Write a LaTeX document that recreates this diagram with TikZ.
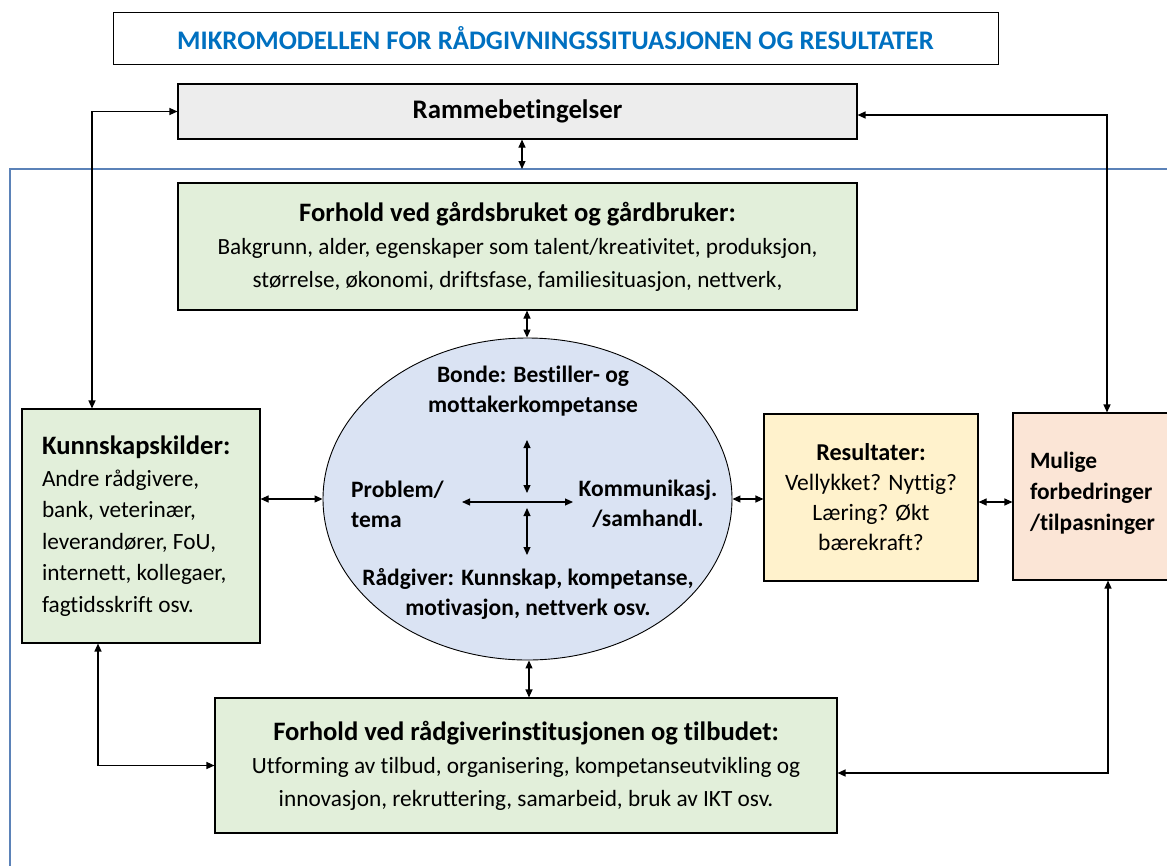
\documentclass[tikz,border=0pt]{standalone}
\usepackage{fontspec}
\setmainfont{Carlito}[Ligatures=CommonOff]
\usepackage{xcolor}
\usetikzlibrary{arrows.meta, shapes.geometric}

\definecolor{titleblue}{HTML}{0070C0}
\definecolor{framegray}{HTML}{EDEDED}
\definecolor{farmgreen}{HTML}{E2EFDA}
\definecolor{meetblue}{HTML}{DAE3F3}
\definecolor{resyellow}{HTML}{FFF2CC}
\definecolor{improvepeach}{HTML}{FBE5D6}
\definecolor{lineblue}{HTML}{5B82B8}

\newcommand{\boxhead}[1]{{\bfseries\fontsize{26.6}{33}\selectfont #1}}

\begin{document}
\begin{tikzpicture}
    [x=1pt, y=-1pt,
     every node/.style={inner sep=0pt, font=\fontsize{23.3}{31.5}\selectfont},
     box/.style={draw, line width=1.1pt, align=center},
     inner/.style={font=\bfseries\fontsize{23.5}{30}\selectfont, align=center},
     link/.style={draw, line width=1.3pt, {Triangle[length=8pt,width=7pt]}-{Triangle[length=8pt,width=7pt]}}]

    \useasboundingbox (0,0) rectangle (1167,865);
    \clip (0,0) rectangle (1167,865);

    % outer frame
    \draw[lineblue, line width=1.1pt] (10,880) -- (10,169) coordinate (frametop) -- (1190,169);

    \node[draw, line width=0.7pt, minimum width=885, minimum height=52, text=titleblue,
          font=\bfseries\fontsize{26.8}{30}\selectfont] (title) at (555.5,38)
        {MIKROMODELLEN FOR RÅDGIVNINGSSITUASJONEN OG RESULTATER};

    \node[box, fill=framegray, minimum width=679, minimum height=55,
          font=\bfseries\fontsize{26.8}{30}\selectfont] (ramme) at (517.5,111.5) {Rammebetingelser};

    \node[box, fill=farmgreen, minimum width=679, minimum height=127, font=\fontsize{23.2}{33}\selectfont] (gard) at (517.5,246.5)
        {\boxhead{Forhold ved gårdsbruket og gårdbruker:}\\
         Bakgrunn, alder, egenskaper som talent/kreativitet, produksjon,\\
         størrelse, økonomi, driftsfase, familiesituasjon, nettverk,};

    \node[draw, ellipse, line width=0.9pt, fill=meetblue, minimum width=409, minimum height=322] (meet) at (527.5,499) {};
    \node[inner] (bonde) at (533,391) {Bonde: Bestiller- og\\mottakerkompetanse};
    \node[inner, align=left, anchor=west] (problem) at (351,504) {Problem/\\tema};
    \node[inner] (komm) at (648,504) {Kommunikasj.\\/samhandl.};
    \node[inner] (radgiver) at (528,594) {Rådgiver: Kunnskap, kompetanse,\\motivasjon, nettverk osv.};

    \coordinate (upA) at (527,440);
    \coordinate (upB) at (527,493);
    \coordinate (lowA) at (527,508);
    \coordinate (lowB) at (527,555);
    \coordinate (midL) at (462,502);
    \coordinate (midR) at (573,502);

    \node[box, fill=farmgreen, minimum width=622, minimum height=135, font=\fontsize{23.3}{33}\selectfont] (inst) at (526,765.5)
        {\boxhead{Forhold ved rådgiverinstitusjonen og tilbudet:}\\
         Utforming av tilbud, organisering, kompetanseutvikling og\\
         innovasjon, rekruttering, samarbeid, bruk av IKT osv.};

    \node[box, fill=farmgreen, minimum width=238, minimum height=234, text width=198, align=left] (kilder) at (141,526)
        {\spaceskip=0pt\xspaceskip=0pt
         \boxhead{Kunnskapskilder:}\\
         Andre rådgivere,\\ bank, veterinær,\\ leverandører, FoU,\\ internett, kollegaer,\\ fagtidsskrift osv.};

    \node[box, fill=resyellow, minimum width=214, minimum height=167, font=\fontsize{23.5}{30}\selectfont] (res) at (871,497.5)
        {{\bfseries\fontsize{24.2}{30}\selectfont Resultater:}\\ Vellykket? Nyttig?\\ Læring? Økt\\ bærekraft?};

    \node[box, fill=improvepeach, minimum width=167, minimum height=167, text width=133, align=left,
          font=\bfseries\fontsize{23.4}{31}\selectfont] (mulige) at (1096.5,496.5)
        {Mulige\\ forbedringer\\ /tilpasninger\\[-21pt]\mbox{}};

    % connectors
    \draw[link, line width=1.1pt] ([xshift=4.5pt]ramme.south) -- ([xshift=4.5pt]ramme.south |- frametop);
    \draw[link, line width=1.1pt] ([xshift=9.5pt]gard.south) -- ([xshift=9.5pt]gard.south |- meet.north);
    \draw[link, line width=1.1pt] ([xshift=1.5pt]meet.south) -- ([xshift=1.5pt]meet.south |- inst.north);
    \draw[link, line width=1.1pt] (kilder.east |- meet.west) -- (meet.west);
    \draw[link, line width=1.1pt] (meet.east) -- (meet.east -| res.west);
    \draw[link, line width=1.1pt] ([yshift=-4.5pt]res.east) -- ([yshift=-4.5pt]res.east -| mulige.west);
    \draw[link, line width=1.1pt] (upA) -- (upB);
    \draw[link, line width=1.1pt] (lowA) -- (lowB);
    \draw[link, line width=1.1pt] (midL) -- (midR);

    \draw[link] ([xshift=-49pt]kilder.north) |- (ramme.west);
    \draw[link] ([xshift=-43pt]kilder.south) |- (inst.west);
    \draw[link] ([xshift=10.5pt]mulige.north) |- ([yshift=-3.5pt]ramme.east);
    \draw[link] ([xshift=11.5pt]mulige.south) |- ([yshift=-7.5pt]inst.east);
\end{tikzpicture}
\end{document}
